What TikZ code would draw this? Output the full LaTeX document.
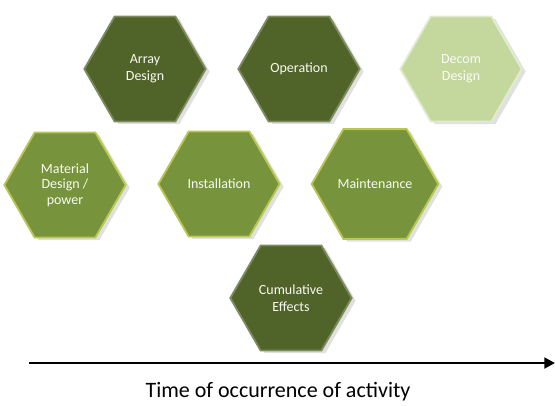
\documentclass[tikz,border=0pt]{standalone}
\usepackage{fontspec}
\setmainfont{Carlito}
\usetikzlibrary{arrows.meta,shapes.geometric,shadows,positioning}

\definecolor{olivedark}{RGB}{80,99,41}
\definecolor{olivemid}{RGB}{119,148,60}
\definecolor{olivelight}{RGB}{196,215,157}

\begin{document}
\begin{tikzpicture}
		[x=0.75pt, y=-0.75pt, inner sep=0pt,
		hexa/.style		= {regular polygon, regular polygon sides=6, minimum size=91pt, align=center, line width=1.4pt,
							font=\fontsize{10.5}{12.5}\selectfont,
							drop shadow={shadow xshift=3pt, shadow yshift=-2pt, opacity=0.22, fill=black!55}},
		darkhex/.style	= {hexa, fill=olivedark, draw=olivedark!75!white, text=white!88!olivelight},
		midhex/.style	= {hexa, fill=olivemid, draw=olivemid!65!yellow!80!white, text=white!88!olivelight},
		lighthex/.style	= {hexa, fill=olivelight, draw=olivelight!50!white, text=white!92!olivelight},
		timeline/.style	= {-{Triangle[length=8pt, width=8pt]}, line width=2.2pt},
		caption/.style	= {font=\fontsize{16.5}{20}\selectfont}]
		
		\useasboundingbox (0,0) rectangle (555,405);
		
		\node at (145, 69)		[darkhex]	(array)		{Array\\Design};
		\node at (299, 69)		[darkhex]	(oper)		{Operation};
		\node at (461, 69)		[lighthex]	(decom)		{Decom\\Design};
		
		\node at (65, 185)		[midhex, font=\fontsize{10.5}{11.5}\selectfont]	(matl)	{Material\\Design /\\power};
		\node at (219, 184)		[midhex]	(inst)		{Installation};
		\node at (375, 184)		[midhex, minimum size=95pt]	(maint)	{Maintenance};
		
		\node at (291, 298)		[darkhex]	(cumul)		{Cumulative\\Effects};
		
		\coordinate (tstart) at (29, 363);
		\coordinate (tend) at (555, 363);
		\draw [timeline] (tstart) -- (tend);
		
		\node at (278, 392)		[caption]	(time)		{Time of occurrence of activity};
		
\end{tikzpicture}
\end{document}
